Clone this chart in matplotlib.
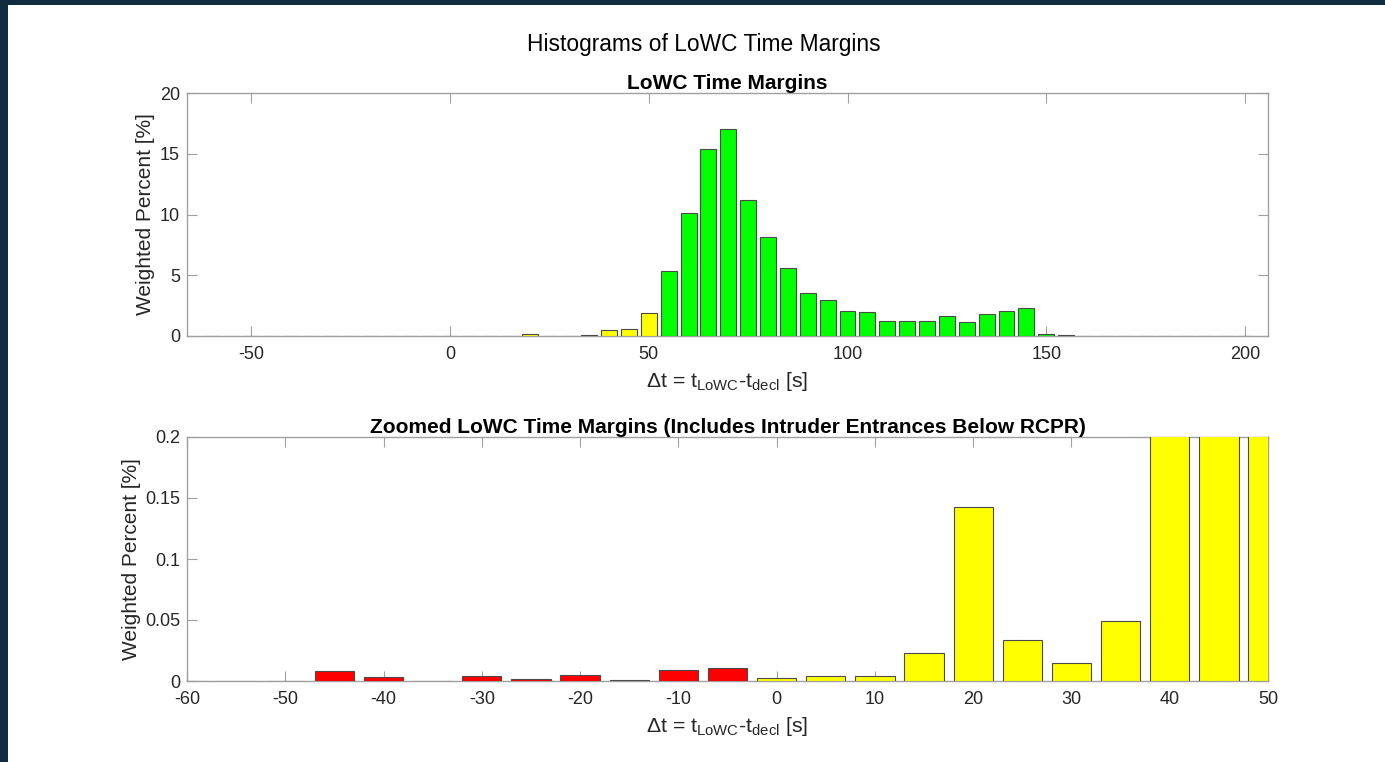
import matplotlib
matplotlib.use("Agg")
import matplotlib.pyplot as plt
from matplotlib.patches import Rectangle
import numpy as np

plt.rcParams['font.family'] = ['Liberation Sans', 'DejaVu Sans']
plt.rcParams['mathtext.fontset'] = 'custom'
plt.rcParams['mathtext.rm'] = 'Liberation Sans'
plt.rcParams['mathtext.it'] = 'Liberation Sans'
plt.rcParams['mathtext.default'] = 'regular'
plt.rcParams['axes.unicode_minus'] = False

# Bin centers [s] and weighted percent values
bin_centers = list(range(-60, 205, 5))
weighted_pct = [
    0.0004, 0.0004, 0.0004, 0.0084, 0.0030, 0.0003, 0.0038, 0.0019,   # -60 .. -25
    0.0052, 0.0011, 0.0087, 0.0104, 0.0025, 0.0043, 0.0038, 0.0230,   # -20 .. 15
    0.1426, 0.0336, 0.0150, 0.0495, 0.49, 0.60, 1.87, 5.38,           # 20 .. 55
    10.15, 15.37, 17.0, 11.2, 8.12, 5.6, 3.5, 2.96,                   # 60 .. 95
    2.08, 1.97, 1.26, 1.21, 1.26, 1.67, 1.18, 1.78,                   # 100 .. 135
    2.08, 2.33, 0.19, 0.05, 0.02, 0.02, 0.02, 0.02,                   # 140 .. 175
    0.02, 0.02, 0.02, 0.02, 0.02,                                     # 180 .. 200
]

suptitle = "Histograms of LoWC Time Margins"
title_top = "LoWC Time Margins"
title_bot = "Zoomed LoWC Time Margins (Includes Intruder Entrances Below RCPR)"
xlabel = r"$\Delta$t = t$_{\mathrm{LoWC}}$-t$_{\mathrm{decl}}$ [s]"
ylabel = "Weighted Percent [%]"
yticks_top = [0, 5, 10, 15, 20]
yticks_bot = [0, 0.05, 0.1, 0.15, 0.2]
ytick_labels_bot = ['0', '0.05', '0.1', '0.15', '0.2']
xticks_top = [-50, 0, 50, 100, 150, 200]
xticks_bot = list(range(-60, 55, 10))

def bar_color(c):
    if c < 0:
        return '#ff0000'
    if c <= 50:
        return '#ffff00'
    return '#00ff00'

colors = [bar_color(c) for c in bin_centers]

W, H = 1385, 762
fig = plt.figure(figsize=(W / 100, H / 100), dpi=100)
fig.patch.set_facecolor('#102c40')
fig.patches.append(Rectangle((8 / W, 0), 1 - 8 / W, 1 - 5 / H, transform=fig.transFigure,
                             facecolor='white', edgecolor='none', zorder=-10))

ax_color = '#a0a0a0'
txt_color = '#262626'
edge_color = '#4a4a4a'

def style(ax):
    for s in ax.spines.values():
        s.set_color(ax_color)
        s.set_linewidth(1.0)
    ax.tick_params(direction='in', length=7.5, width=0.8, color=ax_color,
                   labelcolor=txt_color, labelsize=13, top=True, right=True)
    ax.tick_params(axis='x', pad=7.5)
    ax.tick_params(axis='y', pad=5)

ax1 = fig.add_axes([187 / W, 1 - 336 / H, (1268 - 187) / W, (336 - 93) / H])
ax1.bar(bin_centers, weighted_pct, width=4, color=colors, edgecolor=edge_color,
        linewidth=0.8, zorder=3)
ax1.set_xlim(-66.2, 205.8)
ax1.set_ylim(0, 20)
ax1.set_xticks(xticks_top)
ax1.set_yticks(yticks_top)
style(ax1)
ax1.set_title(title_top, fontsize=15, fontweight='bold', color='black', pad=3)
ax1.set_xlabel(xlabel, fontsize=15.3, color=txt_color, labelpad=5)
ax1.set_ylabel(ylabel, fontsize=15, color=txt_color)
ax1.yaxis.set_label_coords((155 - 187) / 1081, 0.5)

ax2 = fig.add_axes([187 / W, 1 - 681 / H, (1268 - 187) / W, (681 - 437) / H])
ax2.bar(bin_centers, weighted_pct, width=4, color=colors, edgecolor=edge_color,
        linewidth=0.8, zorder=3)
ax2.set_xlim(-60, 50)
ax2.set_ylim(0, 0.2)
ax2.set_xticks(xticks_bot)
ax2.set_yticks(yticks_bot)
ax2.set_yticklabels(ytick_labels_bot)
style(ax2)
ax2.set_title(title_bot, fontsize=15, fontweight='bold', color='black', pad=3)
ax2.set_xlabel(xlabel, fontsize=15.3, color=txt_color, labelpad=5)
ax2.set_ylabel(ylabel, fontsize=15, color=txt_color)
ax2.yaxis.set_label_coords((141 - 187) / 1081, 0.5)

fig.text(704 / W, 1 - 44 / H, suptitle, ha='center', va='center',
         fontsize=16.4, color='black')

fig.savefig('out.png', dpi=100, facecolor=fig.get_facecolor())
